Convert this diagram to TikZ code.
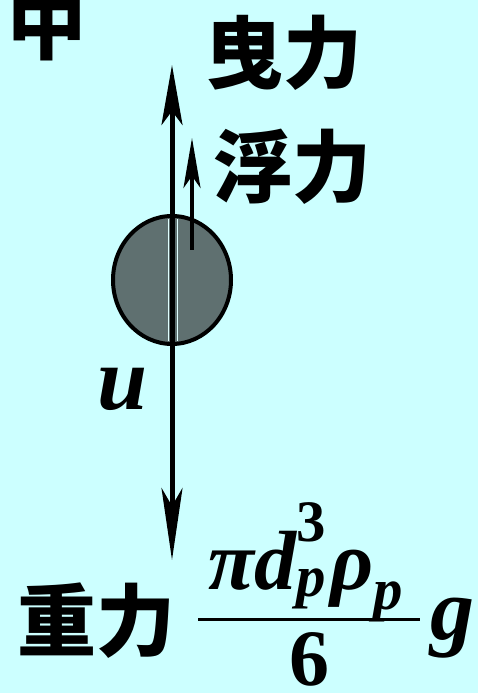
\documentclass[tikz,border=0pt]{standalone}
\usepackage{amsmath}
\usepackage{fontspec}
\setmainfont{Liberation Serif}
\newfontfamily\cjk{Noto Sans CJK SC}
\usepackage{tikz}
\usetikzlibrary{arrows.meta, positioning, shapes.geometric}
\definecolor{bgcyan}{RGB}{204,255,255}
\definecolor{ballgray}{RGB}{95,112,112}

\begin{document}
\begin{tikzpicture}[
    x=1pt, y=1pt,
    every node/.style={inner sep=0pt, font=\fontsize{72}{80}\selectfont},
    hanzi/.style={font=\fontsize{79}{84}\selectfont\cjk\bfseries},
    formula/.style={anchor=base, font=\fontsize{84}{88}\selectfont\bfseries\itshape},
    force/.style={line width=5pt},
    ball/.style={draw, line width=4pt, fill=ballgray}
]
\fill[bgcyan] (0,0) rectangle (478,693);
\useasboundingbox (0,0) rectangle (478,693);
% particle
\node[ball, ellipse, minimum width=118pt, minimum height=128pt] (particle) at (172,413) {};
\draw[line width=1pt, bgcyan!60] (168,352) -- (168,474);
\draw[line width=1pt, bgcyan!60] (177,352) -- (177,474);
% forces
\coordinate (dragtip) at (172,628);
\coordinate (gravtip) at (172,133);
\coordinate (buoyfoot) at (192,443);
\coordinate (buoytip) at (192,555);
\draw[force, -{Stealth[length=60pt, width=21pt, inset=14pt]}] (particle.center) -- (dragtip);
\draw[force, -{Stealth[length=72pt, width=21pt, inset=18pt]}] (particle.center) -- (gravtip);
\draw[force, line width=4pt, -{Stealth[length=50pt, width=17pt, inset=12pt]}] (buoyfoot) -- (buoytip);
% labels
\node[hanzi] (mid) at (47,670) {中};
\node[hanzi] (drag) at (283,640) {曳力};
\node[hanzi] (buoy) at (292,526) {浮力};
\node[hanzi] (grav) at (96,72) {重力};
\node[formula, font=\fontsize{90}{96}\selectfont\bfseries\itshape] (vel) at (123,283) {u};
% weight of the particle
\node[formula] (weightnum) at (306,103)
    {$\text{πd}^{\text{\upshape 3}}_{\text{p}}\,\text{ρ}_{\text{p}}$};
\node[formula, font=\fontsize{80}{84}\selectfont\bfseries] (weightden) at (309,7) {6};
\coordinate (barleft) at (198,73);
\coordinate (barright) at (420,73);
\draw[line width=3pt] (barleft) -- (barright);
\node[formula, font=\fontsize{88}{92}\selectfont\bfseries\itshape] (gacc) at (452,53) {g};
\end{tikzpicture}
\end{document}
